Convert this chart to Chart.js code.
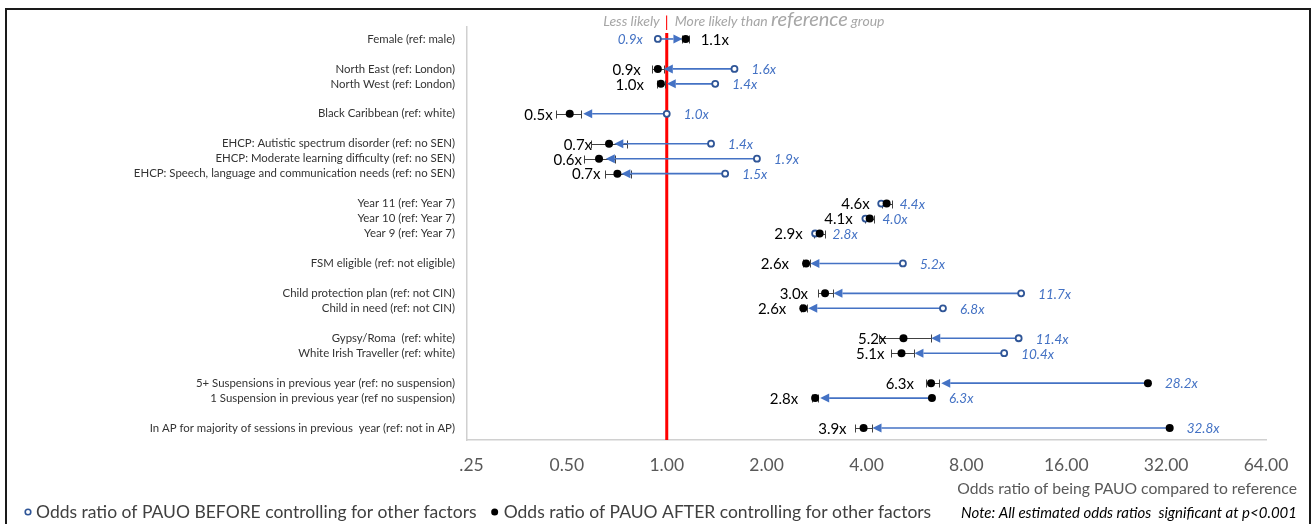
<!DOCTYPE html>
<html><head><meta charset="utf-8">
<script src="https://cdn.jsdelivr.net/npm/chart.js@4.4.1/dist/chart.umd.min.js"></script>
<style>html,body{margin:0;padding:0;background:#fff;overflow:hidden}canvas{display:block}</style>
</head><body>
<canvas id="c" width="1314" height="524"></canvas>
<script>
const categories = [
  "Female (ref: male)",
  "North East (ref: London)",
  "North West (ref: London)",
  "Black Caribbean (ref: white)",
  "EHCP: Autistic spectrum disorder (ref: no SEN)",
  "EHCP: Moderate learning difficulty (ref: no SEN)",
  "EHCP: Speech, language and communication needs (ref: no SEN)",
  "Year 11 (ref: Year 7)",
  "Year 10 (ref: Year 7)",
  "Year 9 (ref: Year 7)",
  "FSM eligible (ref: not eligible)",
  "Child protection plan (ref: not CIN)",
  "Child in need (ref: not CIN)",
  "Gypsy/Roma  (ref: white)",
  "White Irish Traveller (ref: white)",
  "5+ Suspensions in previous year (ref: no suspension)",
  "1 Suspension in previous year (ref no suspension)",
  "In AP for majority of sessions in previous  year (ref: not in AP)"
];
const rowPos = [0, 2, 3, 5, 7, 8, 9, 11, 12, 13, 15, 17, 18, 20, 21, 23, 24, 26];
const beforeValues = [0.94, 1.6, 1.4, 1.0, 1.36, 1.87, 1.5, 4.43, 3.97, 2.8, 5.15, 11.7, 6.8, 11.5, 10.4, 28.2, 6.3, 32.8];
const afterValues  = [1.14, 0.94, 0.96, 0.51, 0.67, 0.625, 0.71, 4.6, 4.09, 2.89, 2.63, 3.0, 2.58, 5.17, 5.1, 6.26, 2.8, 3.92];
const ciLow  = [1.11, 0.90, 0.935, 0.463, 0.59, 0.565, 0.65, 4.45, 3.95, 2.77, 2.57, 2.86, 2.54, 4.35, 4.75, 6.03, 2.74, 3.70];
const ciHigh = [1.17, 0.98, 0.99, 0.553, 0.76, 0.70, 0.78, 4.77, 4.22, 2.99, 2.70, 3.17, 2.65, 6.27, 5.56, 6.62, 2.86, 4.15];
const arrowTip = [1.115, 0.98, 1.0, 0.56, 0.695, 0.655, 0.73, null, null, null, 2.71, 3.18, 2.67, 6.27, 5.58, 6.72, 2.9, 4.17];
const beforeLabels = ["0.9x","1.6x","1.4x","1.0x","1.4x","1.9x","1.5x","4.4x","4.0x","2.8x","5.2x","11.7x","6.8x","11.4x","10.4x","28.2x","6.3x","32.8x"];
const afterLabels  = ["1.1x","0.9x","1.0x","0.5x","0.7x","0.6x","0.7x","4.6x","4.1x","2.9x","2.6x","3.0x","2.6x","5.2x","5.1x","6.3x","2.8x","3.9x"];
const beforeFilled = [false,false,false,false,false,false,false,false,false,false,false,false,false,false,false,true,true,true];
const xTickValues = [0.25, 0.5, 1, 2, 4, 8, 16, 32, 64];
const xTickLabels = ["  .25", "0.50", "1.00", "2.00", "4.00", "8.00", "16.00", "32.00", "64.00"];
const referenceValue = 1;

const FONT = "Lato, 'Open Sans', sans-serif";
const BLUE = "#4472C4";
const DARKBLUE = "#2F5597";

const overlay = {
  id: 'overlay',
  beforeDatasetDraw(chart, args) {
    if (args.index !== 1) return;
    const ctx = chart.ctx, xs = chart.scales.x, ys = chart.scales.y;
    ctx.save();
    ctx.strokeStyle = '#404040';
    ctx.lineWidth = 1;
    rowPos.forEach((r, i) => {
      const y = Math.round(ys.getPixelForValue(r)) + 0.5;
      const a = Math.round(xs.getPixelForValue(ciLow[i])) + 0.5;
      const b = Math.round(xs.getPixelForValue(ciHigh[i])) + 0.5;
      ctx.beginPath();
      ctx.moveTo(a, y); ctx.lineTo(b, y);
      ctx.moveTo(a, y - 4); ctx.lineTo(a, y + 4);
      ctx.moveTo(b, y - 4); ctx.lineTo(b, y + 4);
      ctx.stroke();
    });
    ctx.strokeStyle = BLUE; ctx.fillStyle = BLUE; ctx.lineWidth = 1.6;
    rowPos.forEach((r, i) => {
      if (arrowTip[i] == null) return;
      const y = ys.getPixelForValue(r);
      const p0 = xs.getPixelForValue(beforeValues[i]);
      const p1 = xs.getPixelForValue(arrowTip[i]);
      const dir = Math.sign(p1 - p0);
      const head = 9;
      ctx.beginPath();
      ctx.moveTo(p0 + dir * 3, y);
      ctx.lineTo(p1 - dir * head, y);
      ctx.stroke();
      ctx.beginPath();
      ctx.moveTo(p1, y);
      ctx.lineTo(p1 - dir * head, y - 4.5);
      ctx.lineTo(p1 - dir * head, y + 4.5);
      ctx.closePath();
      ctx.fill();
    });
    ctx.restore();
  },
  afterDatasetsDraw(chart) {
    const ctx = chart.ctx, xs = chart.scales.x, ys = chart.scales.y;
    ctx.save();
    ctx.textBaseline = 'middle';
    rowPos.forEach((r, i) => {
      const y = ys.getPixelForValue(r) + 1;
      const pb = xs.getPixelForValue(beforeValues[i]);
      const pa = xs.getPixelForValue(afterValues[i]);
      const rightward = pa - pb > 14;
      ctx.font = `15px ${FONT}`;
      ctx.fillStyle = '#000';
      if (rightward) { ctx.textAlign = 'left'; ctx.fillText(afterLabels[i], pa + 15, y); }
      else { ctx.textAlign = 'right'; ctx.fillText(afterLabels[i], pa - 17, y); }
      ctx.font = `italic 13.5px ${FONT}`;
      ctx.fillStyle = BLUE;
      if (rightward) { ctx.textAlign = 'right'; ctx.fillText(beforeLabels[i], pb - 15, y); }
      else { ctx.textAlign = 'left'; ctx.fillText(beforeLabels[i], Math.max(pb + 17, xs.getPixelForValue(ciHigh[i]) + 8), y); }
    });
    ctx.restore();
  },
  afterDraw(chart) {
    const ctx = chart.ctx, xs = chart.scales.x;
    ctx.save();
    ctx.strokeStyle = '#1a1a1a';
    ctx.lineWidth = 2;
    ctx.beginPath();
    ctx.moveTo(6, 530); ctx.lineTo(6, 9); ctx.lineTo(1310, 9); ctx.lineTo(1310, 530);
    ctx.stroke();
    // header
    const xr = xs.getPixelForValue(referenceValue);
    ctx.textBaseline = 'alphabetic';
    ctx.fillStyle = '#A6A6A6';
    ctx.font = `italic 14px ${FONT}`;
    ctx.textAlign = 'right';
    ctx.fillText('Less likely', xr - 7, 26);
    ctx.fillStyle = '#FF0000';
    ctx.font = `15px ${FONT}`;
    ctx.textAlign = 'center';
    ctx.fillText('|', xr, 27);
    ctx.fillStyle = '#A6A6A6';
    ctx.textAlign = 'left';
    let x = xr + 8;
    ctx.font = `italic 14px ${FONT}`;
    ctx.fillText('More likely than ', x, 26);
    x += ctx.measureText('More likely than ').width;
    ctx.font = `italic 20px ${FONT}`;
    ctx.fillText('reference', x, 26);
    x += ctx.measureText('reference').width;
    ctx.font = `italic 14px ${FONT}`;
    ctx.fillText(' group', x, 26);
    // axis title
    ctx.fillStyle = '#595959';
    ctx.font = `15.7px ${FONT}`;
    ctx.textAlign = 'right';
    ctx.textBaseline = 'middle';
    ctx.fillText('Odds ratio of being PAUO compared to reference', 1297, 489);
    // note
    ctx.fillStyle = '#000';
    ctx.font = `italic 15px ${FONT}`;
    ctx.fillText('Note: All estimated odds ratios  significant at p<0.001', 1297, 513);
    // legend
    ctx.textAlign = 'left';
    ctx.font = `17.5px ${FONT}`;
    ctx.beginPath();
    ctx.arc(28, 512, 2.8, 0, Math.PI * 2);
    ctx.fillStyle = '#fff'; ctx.fill();
    ctx.strokeStyle = DARKBLUE; ctx.lineWidth = 1.6; ctx.stroke();
    ctx.fillStyle = '#404040';
    const t1 = 'Odds ratio of PAUO BEFORE controlling for other factors';
    ctx.fillText(t1, 36, 512);
    const x2 = 36 + ctx.measureText(t1).width + 18;
    ctx.beginPath();
    ctx.arc(x2, 512, 3.5, 0, Math.PI * 2);
    ctx.fillStyle = '#000'; ctx.fill();
    ctx.fillStyle = '#404040';
    ctx.fillText('Odds ratio of PAUO AFTER controlling for other factors', x2 + 9, 512);
    ctx.restore();
  }
};

new Chart(document.getElementById('c'), {
  data: {
    datasets: [
      {
        type: 'line',
        data: [{ x: referenceValue, y: -0.4 }, { x: referenceValue, y: 26.8 }],
        borderColor: '#FF0000', borderWidth: 3, pointRadius: 0, order: 3
      },
      {
        type: 'scatter',
        data: rowPos.map((r, i) => ({ x: beforeValues[i], y: r })),
        pointRadius: c => beforeFilled[c.dataIndex] ? 4 : 3,
        pointBackgroundColor: c => beforeFilled[c.dataIndex] ? '#000' : '#fff',
        pointBorderColor: c => beforeFilled[c.dataIndex] ? '#000' : DARKBLUE,
        pointBorderWidth: c => beforeFilled[c.dataIndex] ? 0 : 1.8,
        order: 1
      },
      {
        type: 'scatter',
        data: rowPos.map((r, i) => ({ x: afterValues[i], y: r })),
        pointRadius: 4, pointBackgroundColor: '#000', pointBorderWidth: 0,
        order: 0
      }
    ]
  },
  options: {
    responsive: false,
    animation: false,
    layout: { padding: { top: 27, right: 48, bottom: 0, left: 0 } },
    plugins: { legend: { display: false }, tooltip: { enabled: false } },
    scales: {
      x: {
        type: 'logarithmic', min: 0.25, max: 64,
        afterBuildTicks: s => { s.ticks = xTickValues.map(v => ({ value: v })); },
        afterFit: s => { s.height = 84; },
        ticks: {
          callback: (v, i) => xTickLabels[i], autoSkip: false, maxRotation: 0,
          color: '#595959', font: { family: FONT, size: 17.5 }, padding: 7
        },
        grid: { display: false },
        border: { display: true, color: '#D0D0D0', width: 1.5 }
      },
      y: {
        type: 'linear', min: -0.8, max: 26.8, reverse: true,
        afterBuildTicks: s => { s.ticks = rowPos.map(v => ({ value: v })); },
        afterFit: s => { s.width = 467; },
        ticks: {
          callback: (v, i) => categories[i], autoSkip: false,
          color: '#333', font: { family: FONT, size: 11.4 }, padding: 4
        },
        grid: { display: false },
        border: { display: true, color: '#D0D0D0', width: 1.5 }
      }
    }
  },
  plugins: [overlay]
});
</script>
</body></html>
